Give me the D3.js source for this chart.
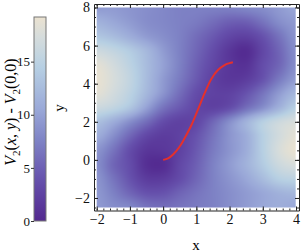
<!DOCTYPE html>
<html>
<head>
<meta charset="utf-8">
<script src="https://cdn.jsdelivr.net/npm/d3@7"></script>
<style>
  body { margin: 0; background: #fff; }
  text { font-family: "Liberation Serif", "DejaVu Serif", serif; }
</style>
</head>
<body>
<svg id="chart" width="301" height="252"></svg>
<script>
// grid of V2(x,y) - V2(0,0)
const xGrid = [-2, -1.5, -1, -0.5, 0, 0.5, 1, 1.5, 2, 2.5, 3, 3.5, 4];
const yGrid = [8, 7.25, 6.5, 5.75, 5, 4.25, 3.5, 2.75, 2, 1.25, 0.5, -0.25, -1, -1.75, -2.5];
const potential = [
  [9.5, 9.5, 9, 8.5, 8, 7.5, 7.5, 7.5, 7.5, 8, 8.5, 9.5, 10.5],
  [11.5, 10.5, 9.5, 8.5, 8, 7.5, 7, 6, 5, 5, 6.5, 8.5, 9.5],
  [13.5, 12.5, 11, 9.5, 8.5, 7.5, 6, 4.5, 3, 2.5, 4, 6.5, 9],
  [16.5, 15.5, 14, 12, 9.5, 7.5, 5.5, 3.5, 1.5, 0.5, 3, 5.5, 8.5],
  [18.5, 17, 15, 12.5, 10, 7.5, 5, 3, 1.5, 1, 3.5, 5.5, 8.5],
  [19, 17.5, 15.5, 12.5, 9.5, 7, 4.5, 2.5, 1.5, 2, 4, 7, 9.5],
  [18.5, 17, 15, 12, 9, 6, 3.5, 2.5, 2.5, 4, 6.5, 9.5, 12],
  [16.5, 15.5, 13.5, 10, 6.5, 4.5, 3, 2.5, 3.5, 6, 8.5, 11.5, 14.5],
  [13, 11, 8.5, 6, 3.5, 2.5, 3, 5.5, 8.5, 11.5, 14.5, 16.5, 17.5],
  [11, 8.5, 5.5, 3, 2, 2.5, 4, 6.5, 9, 11, 14.5, 17, 18.5],
  [9, 6.5, 3.5, 1.5, 1.5, 2.5, 4.5, 7, 9, 11, 14.5, 17.5, 19],
  [8.5, 5.5, 3.5, 0.8, 0.5, 3, 5, 7.5, 9.5, 11.5, 14, 16.5, 17.5],
  [9, 6.5, 4, 2, 2, 3.5, 5.5, 7.5, 9, 10.5, 12.5, 14.5, 15],
  [9.3, 7.5, 5.5, 4, 4, 5.3, 6.5, 7.5, 8.5, 9.5, 10.5, 11.5, 12],
  [9.5, 8.5, 8, 6.5, 6, 6.5, 7, 7.5, 8.5, 9.5, 10.5, 11, 10.5]
];

// red path
const pathX = [0, 0.15, 0.3, 0.5, 0.65, 0.85, 1.05, 1.25, 1.45, 1.65, 1.85, 2.0, 2.1];
const pathY = [0, 0.08, 0.28, 0.7, 1.15, 1.82, 2.65, 3.5, 4.25, 4.72, 4.98, 5.08, 5.13];

const xTicks = [-2, -1, 0, 1, 2, 3, 4];
const yTicks = [-2, 0, 2, 4, 6, 8];
const barTicks = [0, 5, 10, 15];
const barMax = 19.2;

const svg = d3.select('#chart');

const x = d3.scaleLinear().domain([-2, 4]).range([96.7, 296]);
const y = d3.scaleLinear().domain([-2.5, 8]).range([207.5, 7.5]);
const frame = {left: 94, right: 299, top: 4, bottom: 210.5};

const color = d3.scaleLinear()
  .domain([0, 3.8, 7.7, 10.5, 14.5, 17.3, 19.2])
  .range(['#52288f', '#6650ac', '#7f84c6', '#9aa8d8', '#b7d0e3', '#d5dcdc', '#ebe2d0'])
  .clamp(true);

// --- density image (bicubic resampling of the grid)
function cubic(p0, p1, p2, p3, t) {
  return p1 + 0.5 * t * (p2 - p0 + t * (2 * p0 - 5 * p1 + 4 * p2 - p3 + t * (3 * (p1 - p2) + p3 - p0)));
}
function valueAt(gx, gy) {
  const nx = xGrid.length, ny = yGrid.length;
  const fx = (gx - xGrid[0]) / (xGrid[1] - xGrid[0]);
  const fy = (gy - yGrid[0]) / (yGrid[1] - yGrid[0]);
  const ix = Math.min(Math.max(Math.floor(fx), 0), nx - 2);
  const iy = Math.min(Math.max(Math.floor(fy), 0), ny - 2);
  const tx = fx - ix, ty = fy - iy;
  const cl = (i, n) => Math.min(Math.max(i, 0), n - 1);
  const rows = [];
  for (let j = -1; j <= 2; j++) {
    const r = potential[cl(iy + j, ny)];
    rows.push(cubic(r[cl(ix - 1, nx)], r[cl(ix, nx)], r[cl(ix + 1, nx)], r[cl(ix + 2, nx)], tx));
  }
  return cubic(rows[0], rows[1], rows[2], rows[3], ty);
}

const x0 = x(-2), x1 = x(4), y0 = y(8), y1 = y(-2.5);
const W = Math.round(x1 - x0), H = Math.round(y1 - y0);
const canvas = document.createElement('canvas');
canvas.width = W; canvas.height = H;
const ctx = canvas.getContext('2d');
const img = ctx.createImageData(W, H);
for (let j = 0; j < H; j++) {
  for (let i = 0; i < W; i++) {
    const v = valueAt(x.invert(x0 + i + 0.5), y.invert(y0 + j + 0.5));
    const c = d3.rgb(color(v));
    const k = (j * W + i) * 4;
    img.data[k] = c.r; img.data[k + 1] = c.g; img.data[k + 2] = c.b; img.data[k + 3] = 255;
  }
}
ctx.putImageData(img, 0, 0);
svg.append('image')
  .attr('x', x0).attr('y', y0)
  .attr('width', W).attr('height', H)
  .attr('href', canvas.toDataURL());

// path
svg.append('path')
  .datum(pathX.map((d, i) => [d, pathY[i]]))
  .attr('d', d3.line().x(d => x(d[0])).y(d => y(d[1])).curve(d3.curveCatmullRom))
  .attr('fill', 'none')
  .attr('stroke', '#e5302c')
  .attr('stroke-width', 2);

// --- frame axes (ticks pointing inward)
const fx = x.copy().domain([x.invert(frame.left), x.invert(frame.right)]).range([frame.left, frame.right]);
const fy = y.copy().domain([y.invert(frame.bottom), y.invert(frame.top)]).range([frame.bottom, frame.top]);
const xMinor = d3.range(-2, 4.01, 0.2).map(v => +v.toFixed(1));
const yMinor = d3.range(-2.5, 8.01, 0.5);
const fmt = d => d < 0 ? '\u2212' + Math.abs(d) : '' + d;

function frameAxis(axisFn, scale, major, minor, transform, labels) {
  const g = svg.append('g').attr('transform', transform);
  g.call(axisFn(scale).tickValues(minor).tickSizeInner(-2).tickSizeOuter(0).tickFormat(''));
  g.selectAll('.tick text').remove();
  const g2 = svg.append('g').attr('transform', transform);
  g2.call(axisFn(scale).tickValues(major).tickSizeInner(-4).tickSizeOuter(0)
    .tickPadding(labels ? 4 : 0).tickFormat(labels ? fmt : ''));
  g2.select('.domain').remove();
  [g, g2].forEach(s => {
    s.selectAll('line').attr('stroke', '#222');
    s.select('.domain').attr('stroke', '#222');
  });
  g2.selectAll('text').attr('fill', '#111').style('font-size', '14px');
  return g2;
}
frameAxis(d3.axisBottom, fx, xTicks, xMinor, `translate(0,${frame.bottom})`, true);
frameAxis(d3.axisTop, fx, xTicks, xMinor, `translate(0,${frame.top})`, false);
frameAxis(d3.axisLeft, fy, yTicks, yMinor, `translate(${frame.left},0)`, true);
frameAxis(d3.axisRight, fy, yTicks, yMinor, `translate(${frame.right},0)`, false);

svg.append('text')
  .attr('x', 196).attr('y', 250)
  .attr('text-anchor', 'middle')
  .style('font-size', '15px')
  .text('x');
svg.append('text')
  .attr('transform', 'translate(64,108) rotate(-90)')
  .attr('text-anchor', 'middle')
  .style('font-size', '15px')
  .text('y');

// --- colour bar
const bar = {x: 34, w: 12};
const by = d3.scaleLinear().domain([0, barMax]).range([221, 17]);
const grad = svg.append('defs').append('linearGradient')
  .attr('id', 'barGrad').attr('x1', 0).attr('x2', 0).attr('y1', 1).attr('y2', 0);
d3.range(0, 1.0001, 0.05).forEach(t => {
  grad.append('stop').attr('offset', t).attr('stop-color', color(t * barMax));
});
svg.append('rect')
  .attr('x', bar.x).attr('y', by(barMax))
  .attr('width', bar.w).attr('height', by(0) - by(barMax))
  .attr('fill', 'url(#barGrad)')
  .attr('stroke', '#777').attr('stroke-width', 1);
const barAxis = svg.append('g')
  .attr('transform', `translate(${bar.x},0)`)
  .call(d3.axisLeft(by).tickValues(barTicks).tickSizeInner(3).tickSizeOuter(0).tickPadding(1));
barAxis.select('.domain').remove();
barAxis.selectAll('line').attr('stroke', '#333');
barAxis.selectAll('text').attr('fill', '#111').style('font-size', '13px');

const title = svg.append('text')
  .attr('transform', 'translate(16,112) rotate(-90)')
  .attr('text-anchor', 'middle')
  .style('font-size', '16px');
title.append('tspan').style('font-style', 'italic').text('V');
title.append('tspan').attr('dy', 4).style('font-size', '11px').text('2');
title.append('tspan').attr('dy', -4).text('(');
title.append('tspan').style('font-style', 'italic').text('x');
title.append('tspan').text(', ');
title.append('tspan').style('font-style', 'italic').text('y');
title.append('tspan').text(') - ');
title.append('tspan').style('font-style', 'italic').text('V');
title.append('tspan').attr('dy', 4).style('font-size', '11px').text('2');
title.append('tspan').attr('dy', -4).text('(0,0)');
</script>
</body>
</html>
